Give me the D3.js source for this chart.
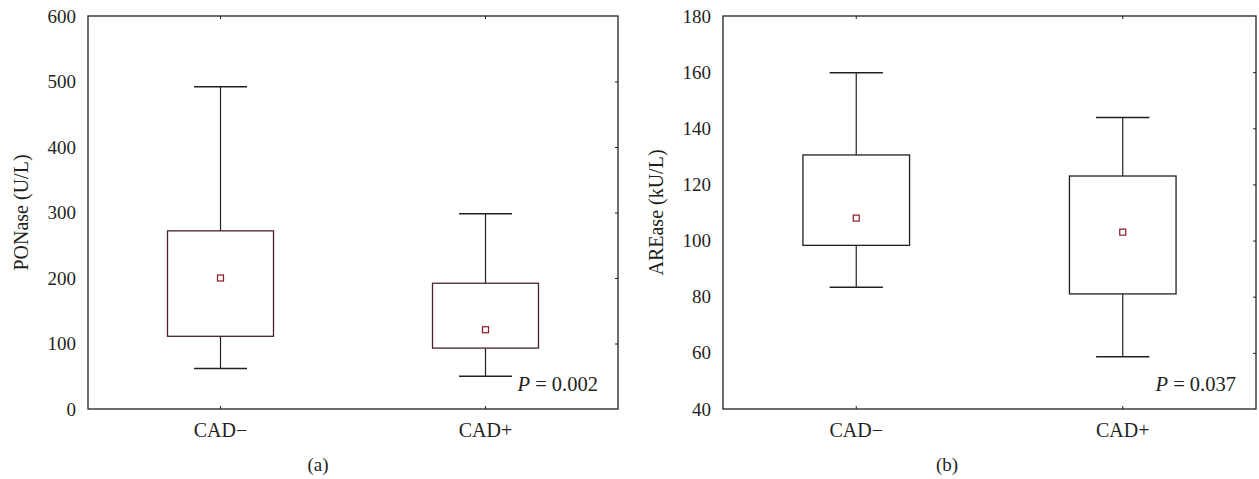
<!DOCTYPE html>
<html>
<head>
<meta charset="utf-8">
<script src="https://d3js.org/d3.v7.min.js"></script>
<style>
  body { margin: 0; background: #fff; }
  svg text { font-family: "Liberation Serif", "Times New Roman", serif; fill: #231f20; }
</style>
</head>
<body>
<div id="chart"></div>
<script>
// groups on the x axis
const categories = ["CAD\u2212", "CAD+"];

// panel (a): PONase (U/L)
const ponaseLow = [62, 50];
const ponaseQ1 = [111, 93];
const ponaseMean = [200, 121];
const ponaseQ3 = [272, 192];
const ponaseHigh = [492, 298];
const ponaseTicks = [0, 100, 200, 300, 400, 500, 600];

// panel (b): AREase (kU/L)
const areaseLow = [83.4, 58.6];
const areaseQ1 = [98.3, 81];
const areaseMean = [108, 103];
const areaseQ3 = [130.5, 123];
const areaseHigh = [159.8, 143.8];
const areaseTicks = [40, 60, 80, 100, 120, 140, 160, 180];

const svg = d3.select("#chart").append("svg")
    .attr("width", 1259)
    .attr("height", 479);

function drawPanel(opts) {
    const left = opts.left, top = 16, width = opts.width, height = 393;

    const g = svg.append("g")
        .attr("transform", `translate(${left},${top})`);

    const x = d3.scaleBand()
        .domain(categories)
        .range([0, width])
        .padding(0);

    const y = d3.scaleLinear()
        .domain(d3.extent(opts.ticks))
        .range([height, 0]);

    const boxW = x.bandwidth() * 0.4;
    const capW = x.bandwidth() * 0.2;
    const cx = c => x(c) + x.bandwidth() / 2;

    // left axis labels (no tick marks)
    const yAxis = g.append("g")
        .call(d3.axisLeft(y).tickValues(opts.ticks).tickSize(0).tickPadding(12));
    yAxis.select(".domain").remove();
    yAxis.selectAll("text")
        .style("font-size", "19px")
        .style("font-family", "'Liberation Serif', serif")
        .attr("fill", "#231f20");

    // inner ticks on the right edge
    g.append("g")
        .attr("transform", `translate(${width},0)`)
        .call(d3.axisRight(y).tickValues(opts.ticks.slice(1, -1)).tickSize(-3).tickFormat(""))
        .call(a => a.select(".domain").remove());

    // bottom labels + inner ticks at category centres
    const xAxis = g.append("g")
        .attr("transform", `translate(0,${height})`)
        .call(d3.axisBottom(x).tickSize(-3).tickPadding(14));
    xAxis.select(".domain").remove();
    xAxis.selectAll("text")
        .style("font-size", "20px")
        .style("font-family", "'Liberation Serif', serif")
        .attr("fill", "#231f20");

    // top inner ticks
    g.append("g")
        .call(d3.axisTop(x).tickSize(-3).tickFormat(""))
        .call(a => a.select(".domain").remove());

    g.selectAll(".tick line").attr("stroke", "#231f20");

    // frame
    g.append("rect")
        .attr("width", width)
        .attr("height", height)
        .attr("fill", "none")
        .attr("stroke", "#231f20")
        .attr("stroke-width", 1.3);

    const rows = categories.map((c, i) => ({
        c: c,
        low: opts.low[i], q1: opts.q1[i], mean: opts.mean[i], q3: opts.q3[i], high: opts.high[i]
    }));

    const box = g.selectAll(".box")
        .data(rows)
        .enter().append("g")
        .attr("class", "box");

    // whisker stems
    box.append("line")
        .attr("x1", d => cx(d.c)).attr("x2", d => cx(d.c))
        .attr("y1", d => y(d.high)).attr("y2", d => y(d.q3))
        .attr("stroke", "#231f20").attr("stroke-width", 1.2);
    box.append("line")
        .attr("x1", d => cx(d.c)).attr("x2", d => cx(d.c))
        .attr("y1", d => y(d.q1)).attr("y2", d => y(d.low))
        .attr("stroke", "#231f20").attr("stroke-width", 1.2);

    // caps
    box.append("line")
        .attr("x1", d => cx(d.c) - capW / 2).attr("x2", d => cx(d.c) + capW / 2)
        .attr("y1", d => y(d.high)).attr("y2", d => y(d.high))
        .attr("stroke", "#231f20").attr("stroke-width", 1.5);
    box.append("line")
        .attr("x1", d => cx(d.c) - capW / 2).attr("x2", d => cx(d.c) + capW / 2)
        .attr("y1", d => y(d.low)).attr("y2", d => y(d.low))
        .attr("stroke", "#231f20").attr("stroke-width", 1.5);

    // box
    box.append("rect")
        .attr("x", d => cx(d.c) - boxW / 2)
        .attr("y", d => y(d.q3))
        .attr("width", boxW)
        .attr("height", d => y(d.q1) - y(d.q3))
        .attr("fill", "none")
        .attr("stroke", opts.boxColor)
        .attr("stroke-width", 1.3);

    // mean marker
    box.append("rect")
        .attr("x", d => cx(d.c) - 3)
        .attr("y", d => y(d.mean) - 3)
        .attr("width", 6)
        .attr("height", 6)
        .attr("fill", "none")
        .attr("stroke", "#8b1a1f")
        .attr("stroke-width", 1.2);

    // y label
    g.append("text")
        .attr("transform", "rotate(-90)")
        .attr("x", -height / 2)
        .attr("y", opts.labelX)
        .attr("text-anchor", "middle")
        .style("font-size", "20px")
        .text(opts.label);

    // p value
    const p = g.append("text")
        .attr("x", width - 20)
        .attr("y", height - 18)
        .attr("text-anchor", "end")
        .style("font-size", "20.5px");
    p.append("tspan").style("font-style", "italic").text("P");
    p.append("tspan").text(" = " + opts.pValue);

    // panel caption
    svg.append("text")
        .attr("x", opts.captionX)
        .attr("y", 471)
        .attr("text-anchor", "middle")
        .style("font-size", "19px")
        .text(opts.caption);
}

drawPanel({
    left: 88, width: 530, ticks: ponaseTicks,
    low: ponaseLow, q1: ponaseQ1, mean: ponaseMean, q3: ponaseQ3, high: ponaseHigh,
    boxColor: "#4a2226", label: "PONase (U/L)", labelX: -60,
    pValue: "0.002", caption: "(a)", captionX: 318
});

drawPanel({
    left: 723, width: 533, ticks: areaseTicks,
    low: areaseLow, q1: areaseQ1, mean: areaseMean, q3: areaseQ3, high: areaseHigh,
    boxColor: "#231f20", label: "AREase (kU/L)", labelX: -60,
    pValue: "0.037", caption: "(b)", captionX: 947
});
</script>
</body>
</html>
